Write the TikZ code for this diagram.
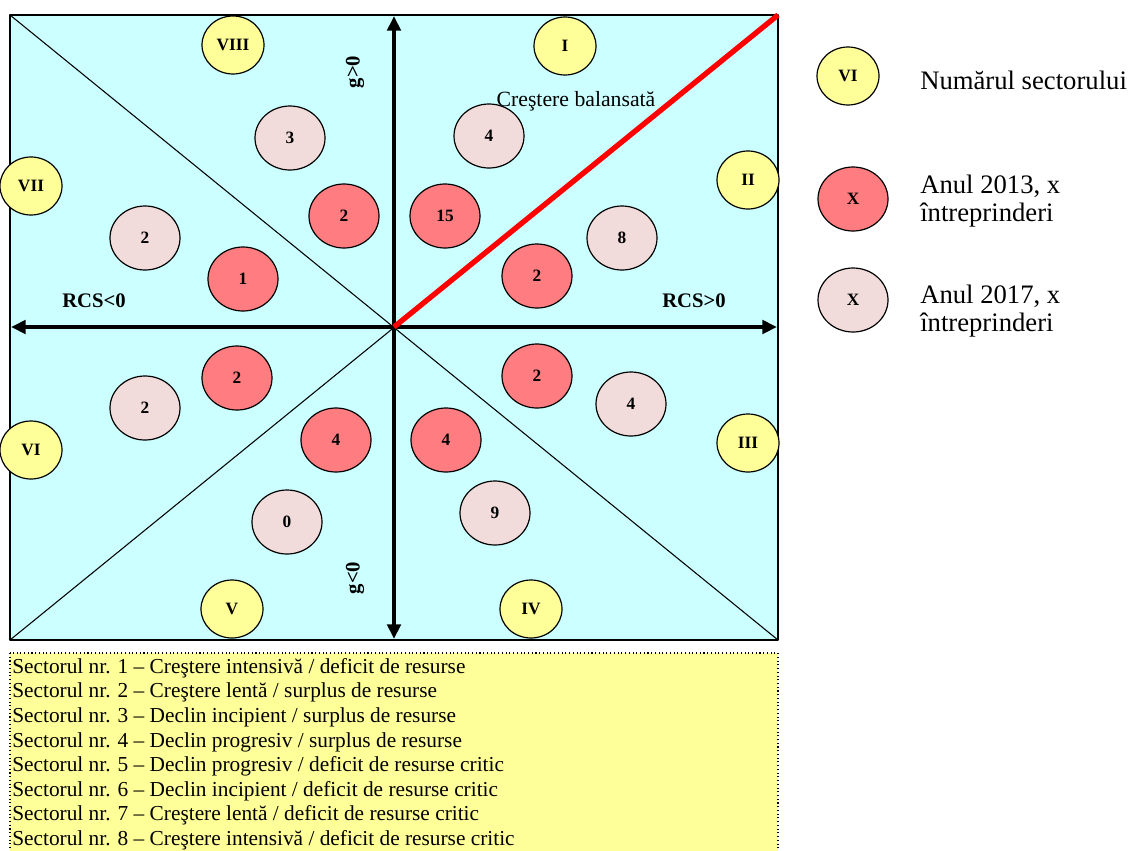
\documentclass[tikz,border=0pt]{standalone}
\usepackage{fontspec}
\setmainfont{Liberation Serif}
\usetikzlibrary{shapes.geometric,arrows.meta}
\begin{document}
\begin{tikzpicture}[x=0.75pt,y=-0.75pt,>={Triangle[length=11pt,width=10pt]},line join=round,
	sect/.style={ellipse,draw,line width=0.9pt,inner sep=0pt,minimum width=46.5pt,minimum height=43.5pt,font=\fontsize{13}{15}\selectfont\bfseries},
	cnt/.style={ellipse,draw,line width=0.9pt,inner sep=0pt,minimum width=52.5pt,minimum height=48pt,font=\fontsize{13}{15}\selectfont\bfseries},
	yra/.style={cnt,fill=redA},
	yrb/.style={cnt,fill=pinkB},
	lbl/.style={font=\fontsize{15.5}{18}\selectfont\bfseries}]
	\definecolor{cyanA}{HTML}{CCFFFF} \definecolor{redA}{HTML}{FF7C80}
	\definecolor{pinkB}{HTML}{F2DCDB} \definecolor{yellowA}{HTML}{FFFF99}
	\useasboundingbox (0,0) rectangle (1128,850);
	% colturile si centrul
	\coordinate (NW) at (10,15); \coordinate (NE) at (778,15);
	\coordinate (SW) at (10,640); \coordinate (SE) at (778,640);
	\coordinate (O) at (394,327);
	\coordinate (L) at (11,327); \coordinate (R) at (777,327);
	\coordinate (T) at (394,16); \coordinate (B) at (394,639);
	\draw[line width=1.2pt,fill=cyanA] (NW) rectangle (SE);
	\draw[line width=0.8pt] (NW)--(SE) (SW)--(NE);
	\draw[<->,line width=2.8pt] (L)--(R);
	\draw[<->,line width=2.8pt] (T)--(B);
	\draw[red,line width=4pt] (O)--(NE);
	% etichete axe
	\node[lbl,rotate=90] (gpos) at (355,72) {g>0};
	\node[lbl,rotate=90] (gneg) at (355,578) {g<0};
	\node[lbl] (rneg) at (94,301) {RCS<0};
	\node[lbl] (rpos) at (694,301) {RCS>0};
	\node[font=\fontsize{16.3}{19}\selectfont] (bal) at (576,101) {Creştere balansată};
	% sectoare
	\foreach \s/\px/\py in {I/565/46,II/748/180,III/748/443,IV/531/609,V/232/609,VI/31/450,VII/31/186,VIII/233/45}
		\node[sect,fill=yellowA] (sec\s) at (\px,\py) {\s};
	% 2013
	\foreach \s/\px/\py/\v in {I/445/216/15,II/537/276/2,III/537/376/2,IV/446/440/4,V/336/440/4,VI/237/378/2,VII/243/279/1,VIII/344/216/2}
		\node[yra] (ya\s) at (\px,\py) {\v};
	% 2017
	\foreach \s/\px/\py/\v in {I/489/136/4,II/622/238/8,III/631/404/4,IV/495/513/9,V/287/522/0,VI/145/408/2,VII/145/238/2,VIII/290/138/3}
		\node[yrb] (yb\s) at (\px,\py) {\v};
	% legenda din dreapta
	\node[sect,fill=yellowA] (legS) at (848,76) {VI};
	\node[yra] (legA) at (853,199) {X};
	\node[yrb] (legB) at (853,300) {X};
	\begin{scope}[every node/.style={anchor=west,align=left,inner sep=0pt,font=\fontsize{20}{21.5}\selectfont}]
		\node (txS) at (920,80) {Numărul sectorului};
		\node (txA) at (920,201) {Anul 2013, x\\întreprinderi};
		\node (txB) at (920,311) {Anul 2017, x\\întreprinderi};
	\end{scope}
	% lista sectoarelor
	\draw[dotted,line width=0.8pt,fill=yellowA] (10,653) rectangle (778,852);
	\node[anchor=north west,align=left,inner sep=0pt,font=\fontsize{16}{18.45}\selectfont] (lista) at (12,658) {%
		Sectorul nr. 1 – Creştere intensivă / deficit de resurse\\
		Sectorul nr. 2 – Creştere lentă / surplus de resurse\\
		Sectorul nr. 3 – Declin incipient / surplus de resurse\\
		Sectorul nr. 4 – Declin progresiv / surplus de resurse\\
		Sectorul nr. 5 – Declin progresiv / deficit de resurse critic\\
		Sectorul nr. 6 – Declin incipient / deficit de resurse critic\\
		Sectorul nr. 7 – Creştere lentă / deficit de resurse critic\\
		Sectorul nr. 8 – Creştere intensivă / deficit de resurse critic};
\end{tikzpicture}
\end{document}
